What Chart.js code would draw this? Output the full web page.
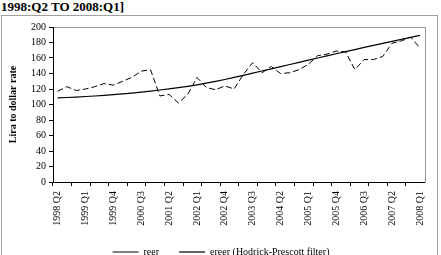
<!DOCTYPE html>
<html>
<head>
<meta charset="utf-8">
<script src="https://cdn.jsdelivr.net/npm/chart.js@4.4.1/dist/chart.umd.min.js"></script>
<style>
  html, body { margin:0; padding:0; background:#fff; width:441px; height:255px; overflow:hidden; }
  #ttl { position:absolute; left:1px; top:-1px; font:bold 13px "Liberation Serif", "Times New Roman", serif; color:#000; white-space:nowrap; }
  #box { position:absolute; left:1px; top:15px; width:435px; height:252px; border:1px solid #a0a0a0; }
  #wrap { position:absolute; left:0; top:0; width:435px; height:252px; }
</style>
</head>
<body>
<div id="ttl">1998:Q2 TO 2008:Q1]</div>
<div id="box"><div id="wrap"><canvas id="chart"></canvas></div></div>
<script>
/* ── 데이터: 분기 라벨 / 시리즈 ── */
const QUARTERS = [
  '1998 Q2','1998 Q3','1998 Q4',
  '1999 Q1','1999 Q2','1999 Q3','1999 Q4',
  '2000 Q1','2000 Q2','2000 Q3','2000 Q4',
  '2001 Q1','2001 Q2','2001 Q3','2001 Q4',
  '2002 Q1','2002 Q2','2002 Q3','2002 Q4',
  '2003 Q1','2003 Q2','2003 Q3','2003 Q4',
  '2004 Q1','2004 Q2','2004 Q3','2004 Q4',
  '2005 Q1','2005 Q2','2005 Q3','2005 Q4',
  '2006 Q1','2006 Q2','2006 Q3','2006 Q4',
  '2007 Q1','2007 Q2','2007 Q3','2007 Q4',
  '2008 Q1'
];

const REER = [
  117, 123, 118, 120, 123, 127, 125, 130, 135, 143,
  145, 111, 113, 102, 113, 135, 122, 119, 124, 120,
  139, 154, 141, 149, 140, 141, 145, 152, 163, 165,
  169, 168, 145, 158, 158, 162, 179, 182, 187, 173
];

const EREER = [
  108.5, 109.0, 109.6, 110.3, 111.0, 111.8, 112.7, 113.7, 114.8, 116.0,
  117.3, 118.7, 120.2, 121.8, 123.5, 125.4, 127.5, 129.8, 132.3, 134.9,
  137.6, 140.4, 143.2, 146.0, 148.8, 151.6, 154.4, 157.2, 160.0, 162.8,
  165.5, 168.2, 170.9, 173.6, 176.2, 178.8, 181.4, 184.0, 186.6, 189.2
];

const Y_MIN = 0, Y_MAX = 200, Y_STEP = 20;

/* ── 공통 스타일 ── */
const SERIF = "'Liberation Serif', 'Times New Roman', serif";
const F10 = { family: SERIF, size: 10 };
Chart.defaults.font.family = SERIF;
Chart.defaults.color = '#000';

/* 플롯 영역 회색 테두리 (축보다 먼저 그림) */
const plotFrame = {
  id: 'plotFrame',
  beforeDraw(c){
    const a = c.chartArea, ctx = c.ctx;
    ctx.save();
    ctx.strokeStyle = '#9a9a9a';
    ctx.lineWidth = 1;
    ctx.strokeRect(Math.round(a.left) + 0.5, Math.round(a.top) + 0.5,
                   Math.round(a.right - a.left), Math.round(a.bottom - a.top));
    ctx.restore();
  }
};

new Chart(document.getElementById('chart'), {
  type: 'line',
  data: {
    labels: QUARTERS,
    datasets: [
      {
        label: 'reer',
        data: REER,
        borderColor: '#000',
        borderWidth: 1,
        borderDash: [6, 3],
        pointRadius: 0,
        tension: 0
      },
      {
        label: 'ereer (Hodrick-Prescott filter)',
        data: EREER,
        borderColor: '#000',
        borderWidth: 1.2,
        pointRadius: 0,
        tension: 0
      }
    ]
  },
  options: {
    responsive: true,
    maintainAspectRatio: false,
    animation: false,
    events: [],
    // left 패딩은 범례 중앙 위치 맞추기용 (y축 폭에서 빼줌)
    layout: { padding: { left: 12, right: 9, top: 11, bottom: 1 } },
    plugins: {
      legend: {
        position: 'bottom',
        labels: {
          usePointStyle: true,
          pointStyle: 'line',
          pointStyleWidth: 26,
          padding: 20,
          color: '#000',
          font: F10
        }
      },
      tooltip: { enabled: false }
    },
    scales: {
      x: {
        offset: true,
        grid: {
          offset: true,
          drawOnChartArea: false,
          tickLength: 4,
          tickColor: ctx => (ctx.index % 2 === 0 ? '#000' : 'rgba(0,0,0,0)')
        },
        border: { color: '#000', width: 1 },
        ticks: {
          autoSkip: false,
          maxRotation: 90,
          minRotation: 90,
          padding: 5,
          color: '#000',
          font: F10,
          callback: (v, i) => (i % 3 === 0 ? QUARTERS[i] : '')
        },
        afterFit: s => { s.height = 45; }
      },
      y: {
        min: Y_MIN,
        max: Y_MAX,
        ticks: { stepSize: Y_STEP, padding: 3, color: '#000', font: F10 },
        grid: { drawOnChartArea: false, tickLength: 4, tickColor: '#000' },
        border: { color: '#000', width: 1 },
        title: {
          display: true,
          text: 'Lira to dollar rate',
          color: '#000',
          font: { family: SERIF, size: 10, weight: 'bold' },
          padding: { top: -7, bottom: 0 }
        },
        afterFit: s => { s.width = 39; }
      }
    }
  },
  plugins: [plotFrame]
});
</script>
</body>
</html>
